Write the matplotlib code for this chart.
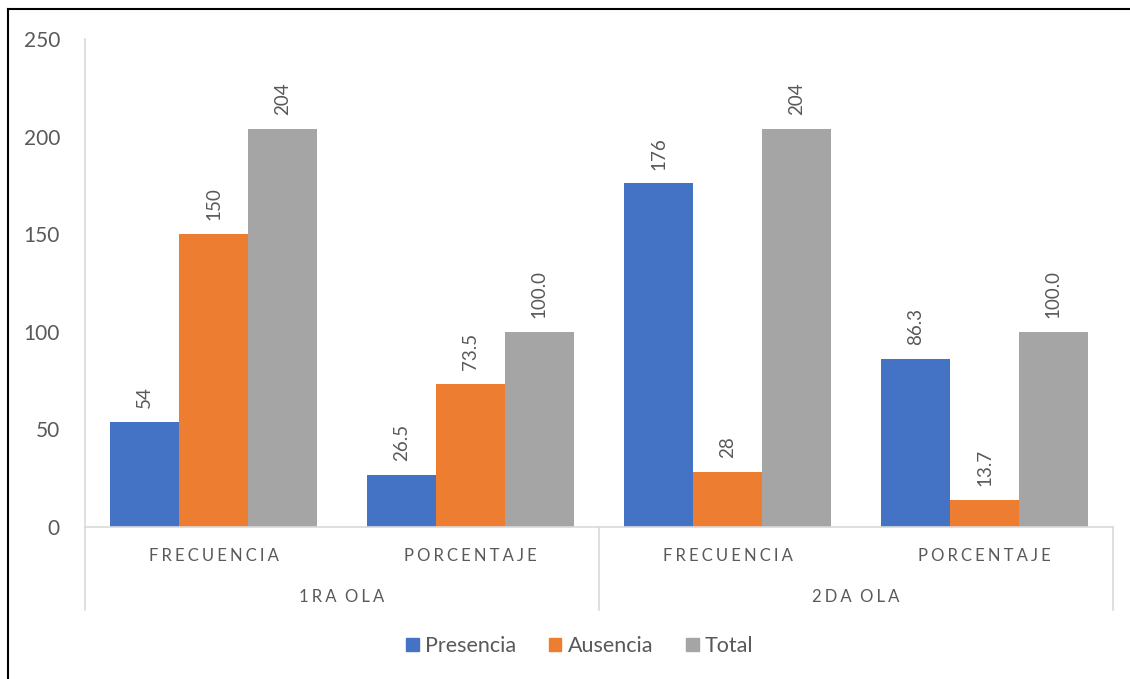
import matplotlib.pyplot as plt
from matplotlib.lines import Line2D
from matplotlib.patches import Patch

plt.rcParams['font.family'] = ['Lato', 'DejaVu Sans']

# datos
categorias = ['FRECUENCIA', 'PORCENTAJE', 'FRECUENCIA', 'PORCENTAJE']
grupos = ['1RA OLA', '2DA OLA']
presencia = [54, 26.5, 176, 86.3]
ausencia = [150, 73.5, 28, 13.7]
total = [204, 100.0, 204, 100.0]
etiquetas_presencia = ['54', '26.5', '176', '86.3']
etiquetas_ausencia = ['150', '73.5', '28', '13.7']
etiquetas_total = ['204', '100.0', '204', '100.0']

azul = '#4472C4'
naranja = '#ED7D31'
gris = '#A5A5A5'
texto = '#595959'
linea = '#D9D9D9'

fig = plt.figure(figsize=(11.3, 6.79), dpi=100)
ax = fig.add_axes([85/1130, 1-527/679, (1113-85)/1130, (527-39)/679])

x = list(range(len(categorias)))
w = 0.268
series = [(presencia, etiquetas_presencia, azul, 'Presencia', -w),
          (ausencia, etiquetas_ausencia, naranja, 'Ausencia', 0),
          (total, etiquetas_total, gris, 'Total', w)]
for vals, labs, col, nombre, dx in series:
    pos = [i + dx for i in x]
    ax.bar(pos, vals, width=w, color=col, label=nombre)
    for p, v, t in zip(pos, vals, labs):
        ax.annotate(t, (p, v), xytext=(0, 10), textcoords='offset points',
                    rotation=90, ha='center', va='bottom', fontsize=13.5, color=texto)

ax.set_xlim(-0.5, 3.5)
ax.set_ylim(0, 250)
ax.set_yticks([0, 50, 100, 150, 200, 250])
ax.tick_params(axis='y', length=0, pad=18, labelsize=15, labelcolor=texto)
ax.set_xticks([])
for s in ['top', 'right']:
    ax.spines[s].set_visible(False)
for s in ['left', 'bottom']:
    ax.spines[s].set_color(linea)
    ax.spines[s].set_linewidth(1.2)

# eje de categorias de dos niveles
sep = '\u2009\u200a'
tr = ax.get_xaxis_transform()
for xs in [-0.5, 1.5, 3.5]:
    ax.plot([xs, xs], [0, -0.170], transform=tr, color=linea, lw=1.2, clip_on=False)
for i, c in enumerate(categorias):
    ax.text(i, -0.059, sep.join(c), transform=tr, ha='center', va='center',
            fontsize=12, color=texto)
for j, g in enumerate(grupos):
    ax.text(2 * j + 0.5, -0.143, sep.join(g).replace(sep + ' ' + sep, '  '),
            transform=tr, ha='center', va='center', fontsize=12, color=texto)

handles = [Patch(color=azul, label='Presencia'), Patch(color=naranja, label='Ausencia'),
           Patch(color=gris, label='Total')]
fig.legend(handles=handles, loc='center', bbox_to_anchor=(0.513, 1-646/679), ncol=3,
           frameon=False, fontsize=15.5, labelcolor=texto, handlelength=0.6,
           handleheight=0.6, handletextpad=0.3, columnspacing=1.5)

# marco
fig.add_artist(Line2D([8/1130, 8/1130], [0, 1-9/679], color='black', lw=1.5))
fig.add_artist(Line2D([8/1130, 1], [1-9/679, 1-9/679], color='black', lw=1.5))

fig.savefig('out.png', dpi=100)
